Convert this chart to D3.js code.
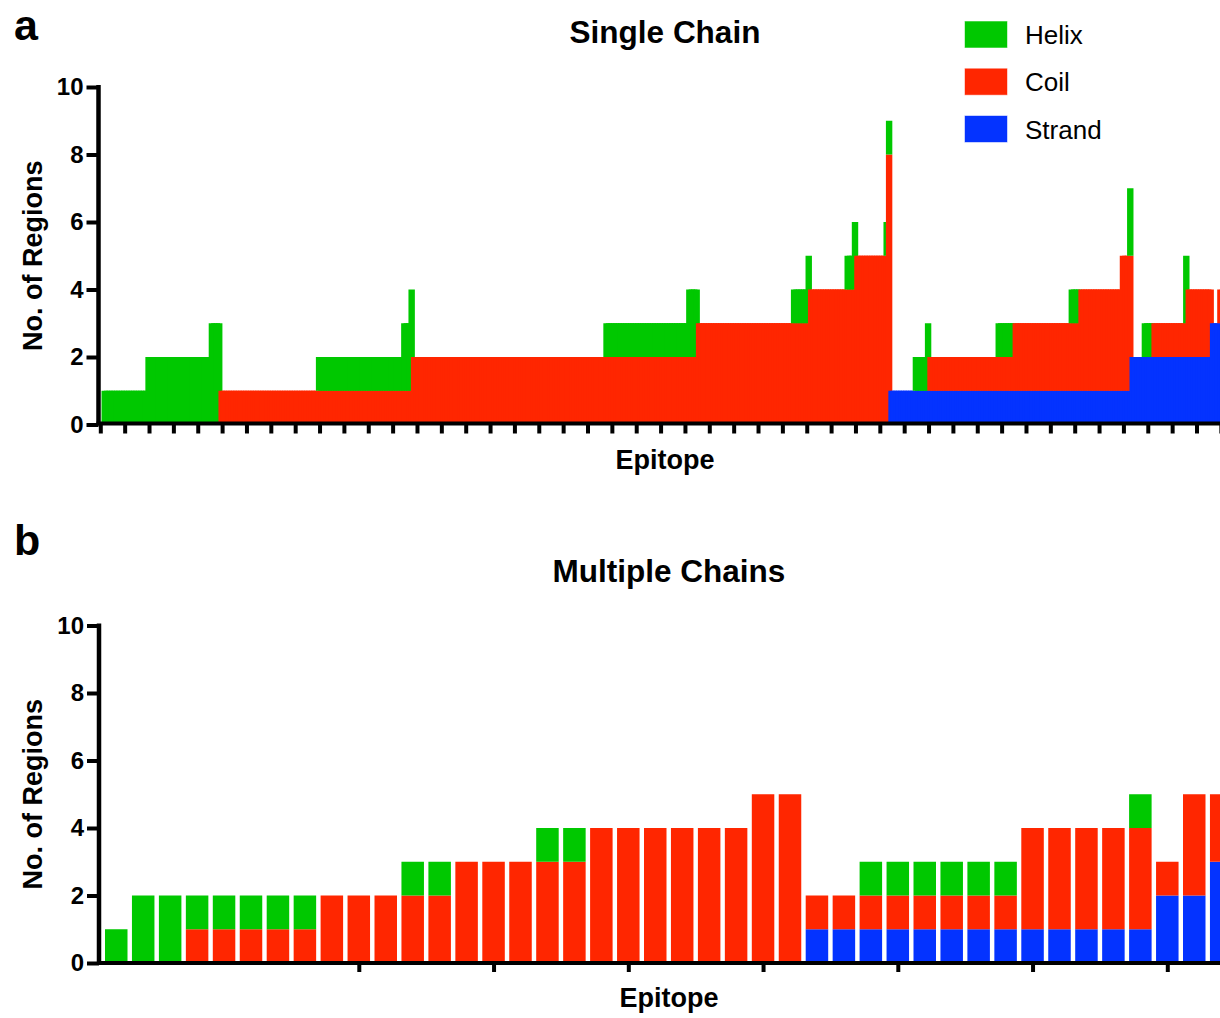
<!DOCTYPE html>
<html>
<head>
<meta charset="utf-8">
<script src="https://cdn.jsdelivr.net/npm/d3@7"></script>
<style>
  body { margin: 0; background: #fff; }
  svg { display: block; font-family: "Liberation Sans", Arial, Helvetica, sans-serif; }
</style>
</head>
<body>
<svg id="chart" width="1220" height="1018"></svg>
<script>
// ---- Data -----------------------------------------------------------------
// Stacking order, bottom to top
const structureKeys = ["strand", "coil", "helix"];
// Legend entries, top to bottom
const legendKeys = ["helix", "coil", "strand"];
const legendLabels = ["Helix", "Coil", "Strand"];

// Single-chain epitopes, sorted; consecutive epitopes sharing the same
// composition are stored as one run (count + regions of each type).
const singleRunCount  = [18, 26, 4, 40, 35, 3, 1, 79, 34, 4, 39, 6, 1, 15, 3, 1, 12, 1, 1, 10, 5, 1, 28, 7, 23, 4, 17, 3, 1, 5, 4, 13, 1, 10, 3, 2];
const singleRunStrand = [0, 0, 0, 0, 0, 0, 0, 0, 0, 0, 0, 0, 0, 0, 0, 0, 0, 0, 0, 1, 1, 1, 1, 1, 1, 1, 1, 1, 1, 2, 2, 2, 2, 2, 3, 3];
const singleRunCoil   = [0, 0, 0, 1, 1, 1, 1, 2, 2, 2, 3, 3, 3, 4, 4, 4, 5, 5, 8, 0, 0, 0, 1, 1, 2, 2, 3, 4, 4, 0, 0, 1, 1, 2, 0, 1];
const singleRunHelix  = [1, 2, 3, 0, 1, 2, 3, 0, 1, 2, 0, 1, 2, 0, 1, 2, 0, 1, 1, 0, 1, 2, 0, 1, 0, 1, 0, 0, 2, 0, 1, 0, 2, 0, 0, 0];

// Multiple-chain epitopes, one value per epitope
const multiStrand = [0, 0, 0, 0, 0, 0, 0, 0, 0, 0, 0, 0, 0, 0, 0, 0, 0, 0, 0, 0, 0, 0, 0, 0, 0, 0, 1, 1, 1, 1, 1, 1, 1, 1, 1, 1, 1, 1, 1, 2, 2, 3];
const multiCoil   = [0, 0, 0, 1, 1, 1, 1, 1, 2, 2, 2, 2, 2, 3, 3, 3, 3, 3, 4, 4, 4, 4, 4, 4, 5, 5, 1, 1, 1, 1, 1, 1, 1, 1, 3, 3, 3, 3, 3, 1, 3, 2];
const multiHelix  = [1, 2, 2, 1, 1, 1, 1, 1, 0, 0, 0, 1, 1, 0, 0, 0, 1, 1, 0, 0, 0, 0, 0, 0, 0, 0, 0, 0, 1, 1, 1, 1, 1, 1, 0, 0, 0, 0, 1, 0, 0, 0];

const yTicks = [0, 2, 4, 6, 8, 10];
const multiTicks = [10, 15, 20, 25, 30, 35, 40];

// ---- Styling ----------------------------------------------------------------
const colors = { helix: "#00c800", coil: "#ff2600", strand: "#0433ff" };
const AXIS_W = 4;

const svg = d3.select("#chart");

// Expand runs into individual epitopes
const singleEpitopes = [];
singleRunCount.forEach((n, r) => {
  for (let k = 0; k < n; k++) {
    singleEpitopes.push({ strand: singleRunStrand[r], coil: singleRunCoil[r], helix: singleRunHelix[r] });
  }
});
const multiEpitopes = multiStrand.map((s, i) => ({ strand: s, coil: multiCoil[i], helix: multiHelix[i] }));

// Per-epitope list of stacked segments
function stackedSegments(epitopes) {
  const series = d3.stack().keys(structureKeys)(epitopes);
  return epitopes.map((d, i) => series.map(s => ({ key: s.key, y0: s[i][0], y1: s[i][1] })));
}

function drawYAxis(g, y, axisX) {
  const ax = g.append("g")
    .attr("transform", `translate(${axisX},0)`)
    .call(d3.axisLeft(y).tickValues(yTicks).tickSize(12).tickPadding(3).tickSizeOuter(0));
  ax.select(".domain").remove();
  ax.selectAll(".tick line").attr("stroke", "#000").attr("stroke-width", AXIS_W);
  ax.selectAll(".tick text")
    .attr("fill", "#000")
    .style("font-size", "24px")
    .style("font-weight", "bold")
    .style("font-family", '"Liberation Sans", Arial, Helvetica, sans-serif');
}

function drawAxisLines(g, axisX, axisY, topY) {
  g.append("line")
    .attr("x1", axisX).attr("x2", axisX)
    .attr("y1", topY - 2).attr("y2", axisY + AXIS_W / 2)
    .attr("stroke", "#000").attr("stroke-width", 4.5);
  g.append("line")
    .attr("x1", axisX - 2).attr("x2", 1230)
    .attr("y1", axisY).attr("y2", axisY)
    .attr("stroke", "#000").attr("stroke-width", AXIS_W);
}

function drawXTicks(g, x, values, axisY, size) {
  const ax = g.append("g")
    .attr("transform", `translate(0,${axisY})`)
    .call(d3.axisBottom(x).tickValues(values).tickSize(size).tickFormat("").tickSizeOuter(0));
  ax.select(".domain").remove();
  ax.selectAll(".tick line").attr("stroke", "#000").attr("stroke-width", AXIS_W);
}

function addText(txt, x, y, size, weight, anchor, rotate) {
  const t = svg.append("text")
    .attr("x", x).attr("y", y)
    .attr("text-anchor", anchor || "start")
    .style("font-size", size + "px")
    .style("font-weight", weight)
    .attr("fill", "#000")
    .text(txt);
  if (rotate) t.attr("transform", `rotate(${rotate},${x},${y})`);
  return t;
}

// ---- Panel a: single chain -----------------------------------------------
{
  const axisX = 98.5;
  const x = d3.scaleLinear().domain([0, 460]).range([100.3, 100.3 + 460 * 2.436]);
  const y = d3.scaleLinear().domain([0, 10]).range([424.5, 87]);
  const barOffset = 0.5;   // index units from tick to bar left edge
  const barSpan = 2.63;    // bars are wider than their spacing and overlap
  const barW = x(barSpan) - x(0);

  const g = svg.append("g");
  const bars = g.append("g")
    .selectAll("g")
    .data(stackedSegments(singleEpitopes))
    .join("g");
  bars.selectAll("rect")
    .data((segs, i) => segs.filter(s => s.y1 > s.y0).map(s => ({ ...s, i })))
    .join("rect")
    .attr("x", d => x(d.i + barOffset))
    .attr("width", barW)
    .attr("y", d => y(d.y1))
    .attr("height", d => y(d.y0) - y(d.y1))
    .attr("fill", d => colors[d.key]);

  drawXTicks(g, x, d3.range(0, 461, 10), y(0) - 1, 10);
  drawAxisLines(g, axisX, y(0) - 1, y(10));
  drawYAxis(g, y, axisX);

  addText("a", 14, 40, 43, "bold");
  addText("Single Chain", 665, 43, 31.5, "bold", "middle");
  addText("Epitope", 665, 469, 27, "bold", "middle");
  addText("No. of Regions", 42, (y(0) + y(10)) / 2, 27, "bold", "middle", -90);
}

// ---- Panel b: multiple chains --------------------------------------------
{
  const axisX = 99;
  const x = d3.scaleLinear().domain([1, 40]).range([116.25, 116.25 + 39 * 26.95]);
  const y = d3.scaleLinear().domain([0, 10]).range([963, 625.5]);
  const barW = 22.5;

  const g = svg.append("g");
  const bars = g.append("g")
    .selectAll("g")
    .data(stackedSegments(multiEpitopes))
    .join("g");
  bars.selectAll("rect")
    .data((segs, i) => segs.filter(s => s.y1 > s.y0).map(s => ({ ...s, n: i + 1 })))
    .join("rect")
    .attr("x", d => x(d.n) - barW / 2)
    .attr("width", barW)
    .attr("y", d => y(d.y1))
    .attr("height", d => y(d.y0) - y(d.y1))
    .attr("fill", d => colors[d.key]);

  drawXTicks(g, x, multiTicks, y(0), 9);
  drawAxisLines(g, axisX, y(0), y(10));
  drawYAxis(g, y, axisX);

  addText("b", 14, 555, 43, "bold");
  addText("Multiple Chains", 669, 582, 31.5, "bold", "middle");
  addText("Epitope", 669, 1007, 27, "bold", "middle");
  addText("No. of Regions", 42, (y(0) + y(10)) / 2, 27, "bold", "middle", -90);
}

// ---- Legend -----------------------------------------------------------------
{
  const rowY = d3.scalePoint().domain(legendKeys).range([21.5, 116]);
  const items = svg.append("g").selectAll("g")
    .data(legendKeys)
    .join("g")
    .attr("transform", d => `translate(965,${rowY(d)})`);
  items.append("rect")
    .attr("width", 42).attr("height", 26)
    .attr("fill", d => colors[d])
    .attr("stroke", d => colors[d]).attr("stroke-opacity", 0.45).attr("stroke-width", 1);
  items.append("text")
    .attr("x", 60).attr("y", 22.5)
    .style("font-size", "26px")
    .attr("fill", "#000")
    .text((d, i) => legendLabels[i]);
}
</script>
</body>
</html>
